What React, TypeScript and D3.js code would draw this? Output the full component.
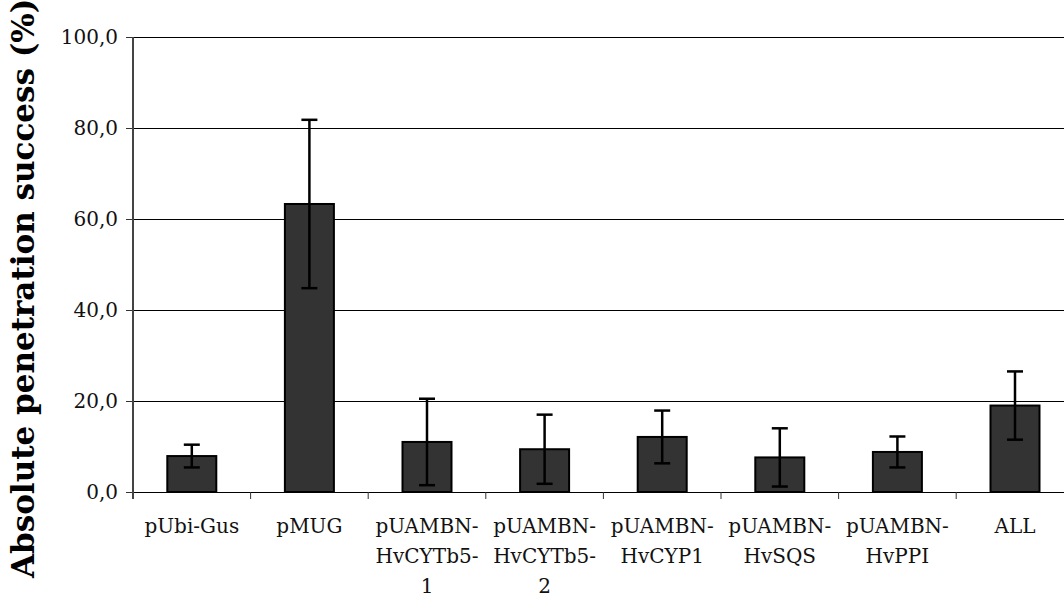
import React, { useRef, useEffect } from 'react';
import * as d3 from 'd3';

const categories = ['pUbi-Gus', 'pMUG', 'pUAMBN-HvCYTb5-1', 'pUAMBN-HvCYTb5-2', 'pUAMBN-HvCYP1', 'pUAMBN-HvSQS', 'pUAMBN-HvPPI', 'ALL'];
const labelLines = [
    ['pUbi-Gus'], ['pMUG'], ['pUAMBN-', 'HvCYTb5-', '1'], ['pUAMBN-', 'HvCYTb5-', '2'],
    ['pUAMBN-', 'HvCYP1'], ['pUAMBN-', 'HvSQS'], ['pUAMBN-', 'HvPPI'], ['ALL']
];
const means = [7.9, 63.3, 11.0, 9.4, 12.1, 7.6, 8.8, 19.0];
const errors = [2.5, 18.5, 9.5, 7.6, 5.8, 6.4, 3.4, 7.5];
const yTicks = [0, 20, 40, 60, 80, 100];
const yTitle = 'Absolute penetration success (%)';

export default function App() {
    const ref = useRef<SVGSVGElement>(null);

    useEffect(() => {
        if (!ref.current) return;
        const svg = d3.select(ref.current);
        svg.selectAll('*').remove();

        const left = 133, top = 37, bottom = 492;
        const band = 117.6;
        const font = '"DejaVu Serif", Georgia, serif';

        const x = d3.scaleBand<string>()
            .domain(categories)
            .range([left, left + band * categories.length])
            .padding(0);
        const y = d3.scaleLinear().domain([0, 100]).range([bottom, top]);
        const barW = 49;

        // gridlines
        svg.append('g').selectAll('line')
            .data(yTicks.filter(t => t > 0))
            .enter().append('line')
            .attr('x1', left).attr('x2', 1064)
            .attr('y1', d => y(d) + 0.5).attr('y2', d => y(d) + 0.5)
            .attr('stroke', '#000').attr('stroke-width', 1);

        // y ticks + labels
        const yg = svg.append('g');
        yg.selectAll('line')
            .data(yTicks)
            .enter().append('line')
            .attr('x1', left - 7).attr('x2', left)
            .attr('y1', d => y(d) + 0.5).attr('y2', d => y(d) + 0.5)
            .attr('stroke', '#333');
        yg.selectAll('text')
            .data(yTicks)
            .enter().append('text')
            .attr('x', left - 15).attr('y', d => y(d))
            .attr('dy', '0.33em')
            .attr('text-anchor', 'end')
            .style('font-family', font).style('font-size', '20px').style('fill', '#111')
            .text(d => d3.format('.1f')(d).replace('.', ','));

        // bars
        svg.append('g').selectAll('rect')
            .data(means)
            .enter().append('rect')
            .attr('x', (d, i) => x(categories[i])! + band / 2 - barW / 2)
            .attr('y', d => y(d))
            .attr('width', barW)
            .attr('height', d => bottom - y(d))
            .attr('fill', '#333333')
            .attr('stroke', '#000').attr('stroke-width', 2);

        // error bars
        const eg = svg.append('g').attr('stroke', '#000').attr('stroke-width', 2.5);
        means.forEach((m, i) => {
            const cx = x(categories[i])! + band / 2;
            const hi = y(m + errors[i]), lo = y(m - errors[i]);
            eg.append('line').attr('x1', cx).attr('x2', cx).attr('y1', hi).attr('y2', lo);
            eg.append('line').attr('x1', cx - 8).attr('x2', cx + 8).attr('y1', hi).attr('y2', hi);
            eg.append('line').attr('x1', cx - 8).attr('x2', cx + 8).attr('y1', lo).attr('y2', lo);
        });

        // x axis line and ticks
        svg.append('line')
            .attr('x1', left).attr('x2', 1064).attr('y1', bottom + 0.5).attr('y2', bottom + 0.5)
            .attr('stroke', '#000');
        svg.append('g').selectAll('line')
            .data(d3.range(categories.length + 1))
            .enter().append('line')
            .attr('x1', i => left + i * band).attr('x2', i => left + i * band)
            .attr('y1', bottom).attr('y2', bottom + 7)
            .attr('stroke', '#333');

        // y axis line
        svg.append('line')
            .attr('x1', left).attr('x2', left).attr('y1', top).attr('y2', bottom + 7)
            .attr('stroke', '#444').attr('stroke-width', 2);

        // category labels
        const lg = svg.append('g');
        labelLines.forEach((lines, i) => {
            const cx = x(categories[i])! + band / 2;
            lines.forEach((t, j) => {
                lg.append('text')
                    .attr('x', cx).attr('y', 533 + j * 30)
                    .attr('text-anchor', 'middle')
                    .style('font-family', font).style('font-size', '20px').style('fill', '#111')
                    .text(t);
            });
        });

        // y title
        svg.append('text')
            .attr('transform', 'translate(34,578) rotate(-90)')
            .attr('text-anchor', 'start')
            .style('font-family', font).style('font-size', '31px').style('font-weight', 'bold')
            .style('fill', '#000')
            .text(yTitle);
    }, []);

    return (
        <svg ref={ref} width={1064} height={599}
            style={{ position: 'absolute', left: 0, top: 0, background: '#fff' }} />
    );
}
